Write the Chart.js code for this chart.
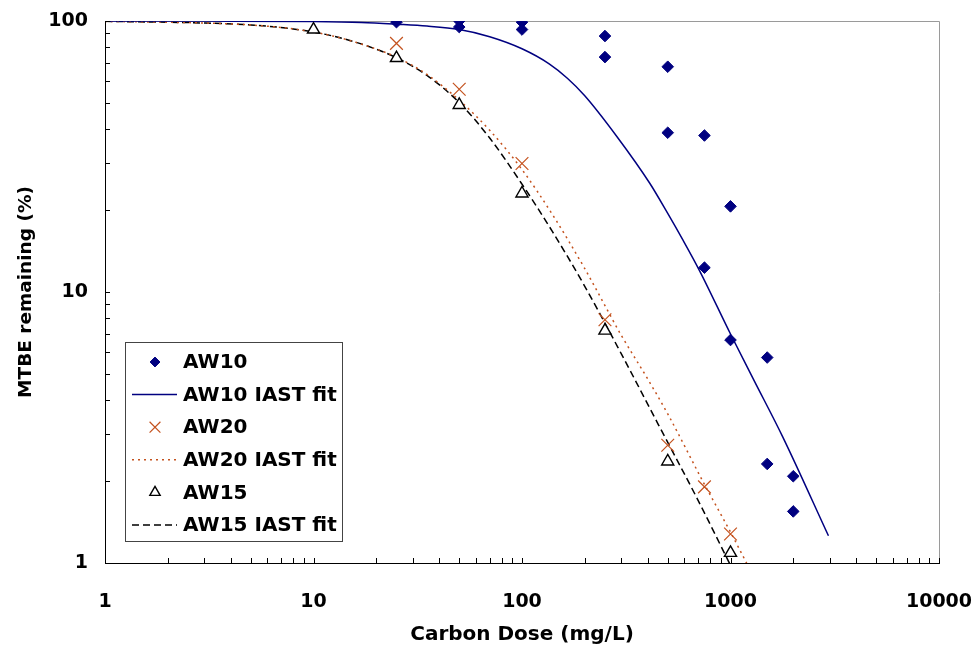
<!DOCTYPE html>
<html lang="en">
<head>
<meta charset="UTF-8">
<title>MTBE remaining vs carbon dose</title>
<script src="https://cdn.jsdelivr.net/npm/chart.js@4.4.1/dist/chart.umd.min.js"></script>
<style>
  html, body { margin: 0; padding: 0; background: #fff; }
</style>
</head>
<body>
<canvas id="chart" width="974" height="651"></canvas>
<script>
// values (dose in mg/L, MTBE remaining in %)
const xTicks = [1, 10, 100, 1000, 10000];
const yTicks = [1, 10, 100];

const aw10Dose = [25, 50, 50, 100, 100, 250, 250, 500, 500, 750, 1000, 750, 1000, 1500, 1500, 2000, 2000];
const aw10Pct  = [99, 100, 95, 99, 93, 88, 73.6, 67.8, 38.7, 37.8, 20.7, 12.3, 6.65, 5.73, 2.32, 2.09, 1.55];

const aw20Dose = [25, 50, 100, 250, 500, 750, 1000];
const aw20Pct  = [82.7, 56, 29.8, 7.9, 2.72, 1.91, 1.28];

const aw15Dose = [10, 25, 50, 100, 250, 500, 1000];
const aw15Pct  = [93, 73, 49, 23.1, 7.2, 2.37, 1.09];

// IAST fit curves
const aw10FitDose = [1, 3, 10, 17, 25, 35, 50, 70, 100, 135, 165, 200, 285, 410, 500, 590, 710, 1000, 1300, 1780, 2950];
const aw10FitPct  = [100, 99.9, 99.5, 98.7, 97.3, 95.8, 93, 87.5, 79, 69.5, 61.5, 53, 37.5, 25.2, 19.5, 15.6, 12, 7.0, 4.7, 2.92, 1.26];

const aw20FitDose = [1, 3, 5, 8, 12, 18, 25, 35, 50, 70, 100, 140, 200, 300, 396, 500, 750, 1000, 1300];
const aw20FitPct  = [99.7, 98.3, 96.7, 93.5, 88.5, 81, 73.5, 63.5, 51, 39.5, 28.3, 19.3, 12.2, 6.9, 4.85, 3.55, 1.95, 1.3, 0.88];

const aw15FitDose = [1, 3, 5, 8, 12, 18, 25, 35, 50, 70, 100, 140, 200, 300, 450, 700, 1000];
const aw15FitPct  = [99.7, 98.3, 96.7, 93.5, 88.5, 81, 73.2, 63, 50, 37, 25, 16.7, 10.5, 5.9, 3.25, 1.7, 0.98];

const pts = (xs, ys) => xs.map((x, i) => ({x: x, y: ys[i]}));

const NAVY = '#000080';
const RUST = '#C4521E';
const FONT = 'DejaVu Sans';

// gray frame on top and right of plot area
const frame = {
  id: 'frame',
  beforeDatasetsDraw(chart) {
    const {ctx, chartArea: a} = chart;
    ctx.save();
    ctx.strokeStyle = '#9a9a9a';
    ctx.lineWidth = 1;
    ctx.beginPath();
    ctx.moveTo(a.left, a.top + 0.5);
    ctx.lineTo(a.right + 0.5, a.top + 0.5);
    ctx.lineTo(a.right + 0.5, a.bottom);
    ctx.stroke();
    ctx.restore();
  }
};

// small inward tick marks at 1..9 of every decade
const tickMarks = {
  id: 'tickMarks',
  afterDraw(chart) {
    const {ctx, chartArea: a, scales: {x, y}} = chart;
    ctx.save();
    ctx.strokeStyle = '#000';
    ctx.lineWidth = 1;
    ctx.beginPath();
    for (let d = 1; d <= 10000; d *= 10) {
      for (let k = 1; k < 10; k++) {
        const v = d * k;
        if (v > 10000) break;
        const px = Math.round(x.getPixelForValue(v)) + 0.5;
        ctx.moveTo(px, a.bottom);
        ctx.lineTo(px, a.bottom - 5);
      }
    }
    for (let d = 1; d <= 100; d *= 10) {
      for (let k = 1; k < 10; k++) {
        const v = d * k;
        if (v > 100) break;
        const py = Math.round(y.getPixelForValue(v)) + 0.5;
        ctx.moveTo(a.left, py);
        ctx.lineTo(a.left + 5, py);
      }
    }
    ctx.stroke();
    ctx.restore();
  }
};

// boxed legend inside the plot area, lower left
const boxLegend = {
  id: 'boxLegend',
  afterDraw(chart) {
    const {ctx, chartArea: a} = chart;
    const left = a.left + 20, top = a.top + 321, w = 217, h = 199;
    ctx.save();
    ctx.fillStyle = '#fff';
    ctx.fillRect(left, top, w, h);
    ctx.strokeStyle = '#444';
    ctx.lineWidth = 1;
    ctx.strokeRect(left + 0.5, top + 0.5, w, h);

    chart.data.datasets.forEach((ds, i) => {
      const cy = top + 20 + i * 32.6;
      ctx.save();
      if (ds.showLine) {
        ctx.strokeStyle = ds.borderColor;
        ctx.lineWidth = ds.borderWidth;
        ctx.setLineDash(ds.borderDash || []);
        ctx.beginPath();
        ctx.moveTo(left + 7, cy);
        ctx.lineTo(left + 52, cy);
        ctx.stroke();
      } else {
        ctx.fillStyle = ds.backgroundColor;
        ctx.strokeStyle = ds.borderColor;
        ctx.lineWidth = ds.pointBorderWidth;
        Chart.helpers.drawPoint(ctx, {
          pointStyle: ds.pointStyle,
          radius: ds.pointRadius * 0.85,
          rotation: 0,
          borderWidth: ds.pointBorderWidth
        }, left + 30, cy);
      }
      ctx.restore();
      ctx.fillStyle = '#000';
      ctx.font = 'bold 20px "' + FONT + '"';
      ctx.textBaseline = 'middle';
      ctx.textAlign = 'left';
      ctx.fillText(ds.label, left + 58, cy + 1);
    });
    ctx.restore();
  }
};

new Chart(document.getElementById('chart'), {
  type: 'scatter',
  data: {
    datasets: [
      {
        label: 'AW10',
        data: pts(aw10Dose, aw10Pct),
        pointStyle: 'rectRot',
        pointRadius: 5.8,
        pointHoverRadius: 5.8,
        pointBorderWidth: 1,
        backgroundColor: NAVY,
        borderColor: NAVY,
        order: 0
      },
      {
        label: 'AW10 IAST fit',
        data: pts(aw10FitDose, aw10FitPct),
        showLine: true,
        borderColor: NAVY,
        borderWidth: 1.5,
        pointRadius: 0,
        cubicInterpolationMode: 'monotone',
        order: 3
      },
      {
        label: 'AW20',
        data: pts(aw20Dose, aw20Pct),
        pointStyle: 'crossRot',
        pointRadius: 9,
        pointHoverRadius: 9,
        pointBorderWidth: 1.2,
        backgroundColor: RUST,
        borderColor: RUST,
        order: 1
      },
      {
        label: 'AW20 IAST fit',
        data: pts(aw20FitDose, aw20FitPct),
        showLine: true,
        borderColor: RUST,
        borderWidth: 1.5,
        borderDash: [2, 4],
        pointRadius: 0,
        cubicInterpolationMode: 'monotone',
        order: 4
      },
      {
        label: 'AW15',
        data: pts(aw15Dose, aw15Pct),
        pointStyle: 'triangle',
        pointRadius: 7,
        pointHoverRadius: 7,
        pointBorderWidth: 1.4,
        backgroundColor: '#fff',
        borderColor: '#000',
        order: 2
      },
      {
        label: 'AW15 IAST fit',
        data: pts(aw15FitDose, aw15FitPct),
        showLine: true,
        borderColor: '#000',
        borderWidth: 1.5,
        borderDash: [7, 4],
        pointRadius: 0,
        cubicInterpolationMode: 'monotone',
        order: 5
      }
    ]
  },
  options: {
    responsive: false,
    devicePixelRatio: 1,
    animation: false,
    layout: { padding: { left: 0, top: 21, right: 35, bottom: 0 } },
    plugins: {
      legend: { display: false },
      tooltip: { enabled: false }
    },
    scales: {
      x: {
        type: 'logarithmic',
        position: 'bottom',
        min: 1,
        max: 10000,
        afterBuildTicks: s => { s.ticks = xTicks.map(v => ({value: v})); },
        afterFit: s => { s.height = 88; s.paddingLeft = 0; s.paddingRight = 0; },
        grid: { display: false, drawTicks: false },
        border: { display: true, color: '#000', width: 1 },
        ticks: {
          autoSkip: false,
          maxRotation: 0,
          padding: 28,
          color: '#000',
          font: { family: FONT, size: 19, weight: 'bold' },
          callback: v => String(v)
        },
        title: {
          display: true,
          text: 'Carbon Dose (mg/L)',
          color: '#000',
          font: { family: FONT, size: 20, weight: 'bold' },
          padding: { top: 0, bottom: 4 }
        }
      },
      y: {
        type: 'logarithmic',
        position: 'left',
        min: 1,
        max: 100,
        afterBuildTicks: s => { s.ticks = yTicks.map(v => ({value: v})); },
        afterFit: s => { s.width = 105; s.paddingTop = 0; s.paddingBottom = 0; },
        grid: { display: false, drawTicks: false },
        border: { display: true, color: '#000', width: 1 },
        ticks: {
          autoSkip: false,
          padding: 17,
          color: '#000',
          font: { family: FONT, size: 19, weight: 'bold' },
          callback: v => String(v)
        },
        title: {
          display: true,
          text: 'MTBE remaining (%)',
          color: '#000',
          font: { family: FONT, size: 18.5, weight: 'bold' },
          padding: { top: 15, bottom: 0 }
        }
      }
    }
  },
  plugins: [frame, tickMarks, boxLegend]
});
</script>
</body>
</html>
